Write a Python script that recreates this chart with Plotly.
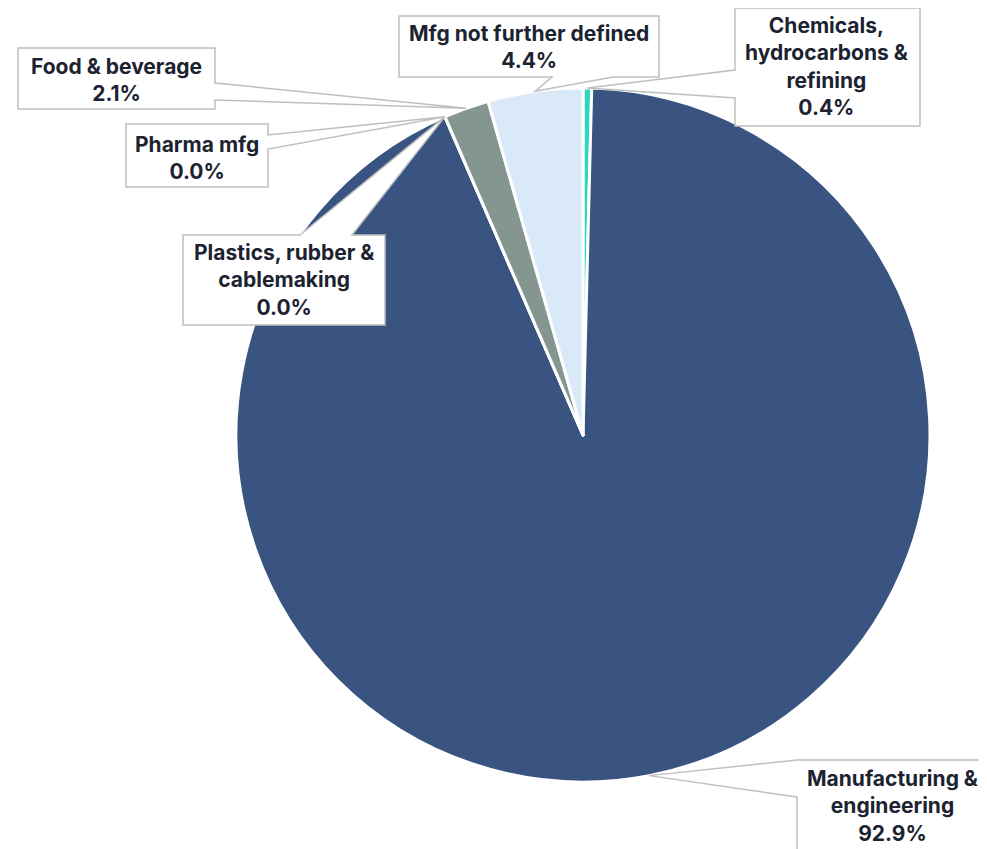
import math
import plotly.graph_objects as go

# ---- data ----
categories = ["Chemicals, hydrocarbons & refining", "Manufacturing & engineering",
              "Plastics, rubber & cablemaking", "Pharma mfg", "Food & beverage",
              "Mfg not further defined"]
label_text = ["Chemicals,<br>hydrocarbons &<br>refining", "Manufacturing &<br>engineering",
              "Plastics, rubber &<br>cablemaking", "Pharma mfg", "Food & beverage",
              "Mfg not further defined"]
shares = [0.4, 92.9, 0.0, 0.0, 2.1, 4.4]
colors = ["#2ed6bd", "#3a5482", "#3a5482", "#3a5482", "#84968f", "#d9e9f7"]

OFF = 8                      # page body margin
W, H = 987 - OFF, 849 - OFF  # figure size
CX, CY, R = 583, 435, 347    # screen pixels

def px(x, y):
    return (x - OFF) / W, 1 - (y - OFF) / H

x0, _ = px(CX - R, 0)
x1, _ = px(CX + R, 0)
_, y1 = px(0, CY - R)
_, y0 = px(0, CY + R)

fig = go.Figure(go.Pie(
    labels=categories, values=shares, sort=False, direction="clockwise", rotation=0,
    marker=dict(colors=colors, line=dict(color="white", width=3)),
    textinfo="none", hoverinfo="label+percent", showlegend=False,
    domain=dict(x=[x0, x1], y=[y0, y1]),
))

# slice midpoint angles (degrees clockwise from top), from the data
total = sum(shares)
tips = []
acc = 0.0
for v in shares:
    mid = (acc + v / 2) / total * 360
    acc += v
    a = math.radians(mid)
    tips.append((CX + R * math.sin(a), CY - R * math.cos(a)))

# callout boxes: (left, top, right, bottom), side of pointer, pointer base span
boxes = [
    ((735, 8, 920, 126), "left", (70, 98)),
    ((797, 760, 992, 856), "left", (760, 797)),
    ((183, 235, 385, 325), "top", (300, 352)),
    ((126, 124, 268, 187), "right", (135, 149)),
    ((18, 48, 215, 109), "right", (83, 100)),
    ((399, 16, 659, 77), "bottom", (552, 613)),
]
centres = [(827, 67), (893, 806), (284, 280), (197, 158), (116, 80), (529, 47)]

shapes = []
annotations = []
for (box, side, (b0, b1)), tip, txt, v, (cx_, cy_) in zip(boxes, tips, label_text, shares, centres):
    l, t, r, b = box
    tx, ty = tip
    if side == "left":
        pts = [(l, t), (r, t), (r, b), (l, b), (l, b1), (tx, ty), (l, b0)]
    elif side == "right":
        pts = [(l, t), (r, t), (r, b0), (tx, ty), (r, b1), (r, b), (l, b)]
    elif side == "top":
        pts = [(l, t), (b0, t), (tx, ty), (b1, t), (r, t), (r, b), (l, b)]
    else:  # bottom
        pts = [(l, t), (r, t), (r, b), (b1, b), (tx, ty), (b0, b), (l, b)]
    path = "M " + " L ".join(f"{px(x, y)[0]:.5f},{px(x, y)[1]:.5f}" for x, y in pts) + " Z"
    shapes.append(dict(type="path", path=path, xref="paper", yref="paper",
                       fillcolor="white", line=dict(color="#bfbfbf", width=1.5), layer="above"))
    ax, ay = px(cx_, cy_)
    annotations.append(dict(
        x=ax, y=ay, xref="paper", yref="paper", xanchor="center", yanchor="middle",
        text=f"{txt}<br>{v:.1f}%", showarrow=False, align="center",
        font=dict(family="Inter, Lato, sans-serif", size=21, color="#1c2330", weight=700),
    ))

fig.update_layout(
    width=W, height=H, margin=dict(l=0, r=0, t=0, b=0),
    paper_bgcolor="white", plot_bgcolor="white",
    shapes=shapes, annotations=annotations,
)
fig.write_html("out.html")
